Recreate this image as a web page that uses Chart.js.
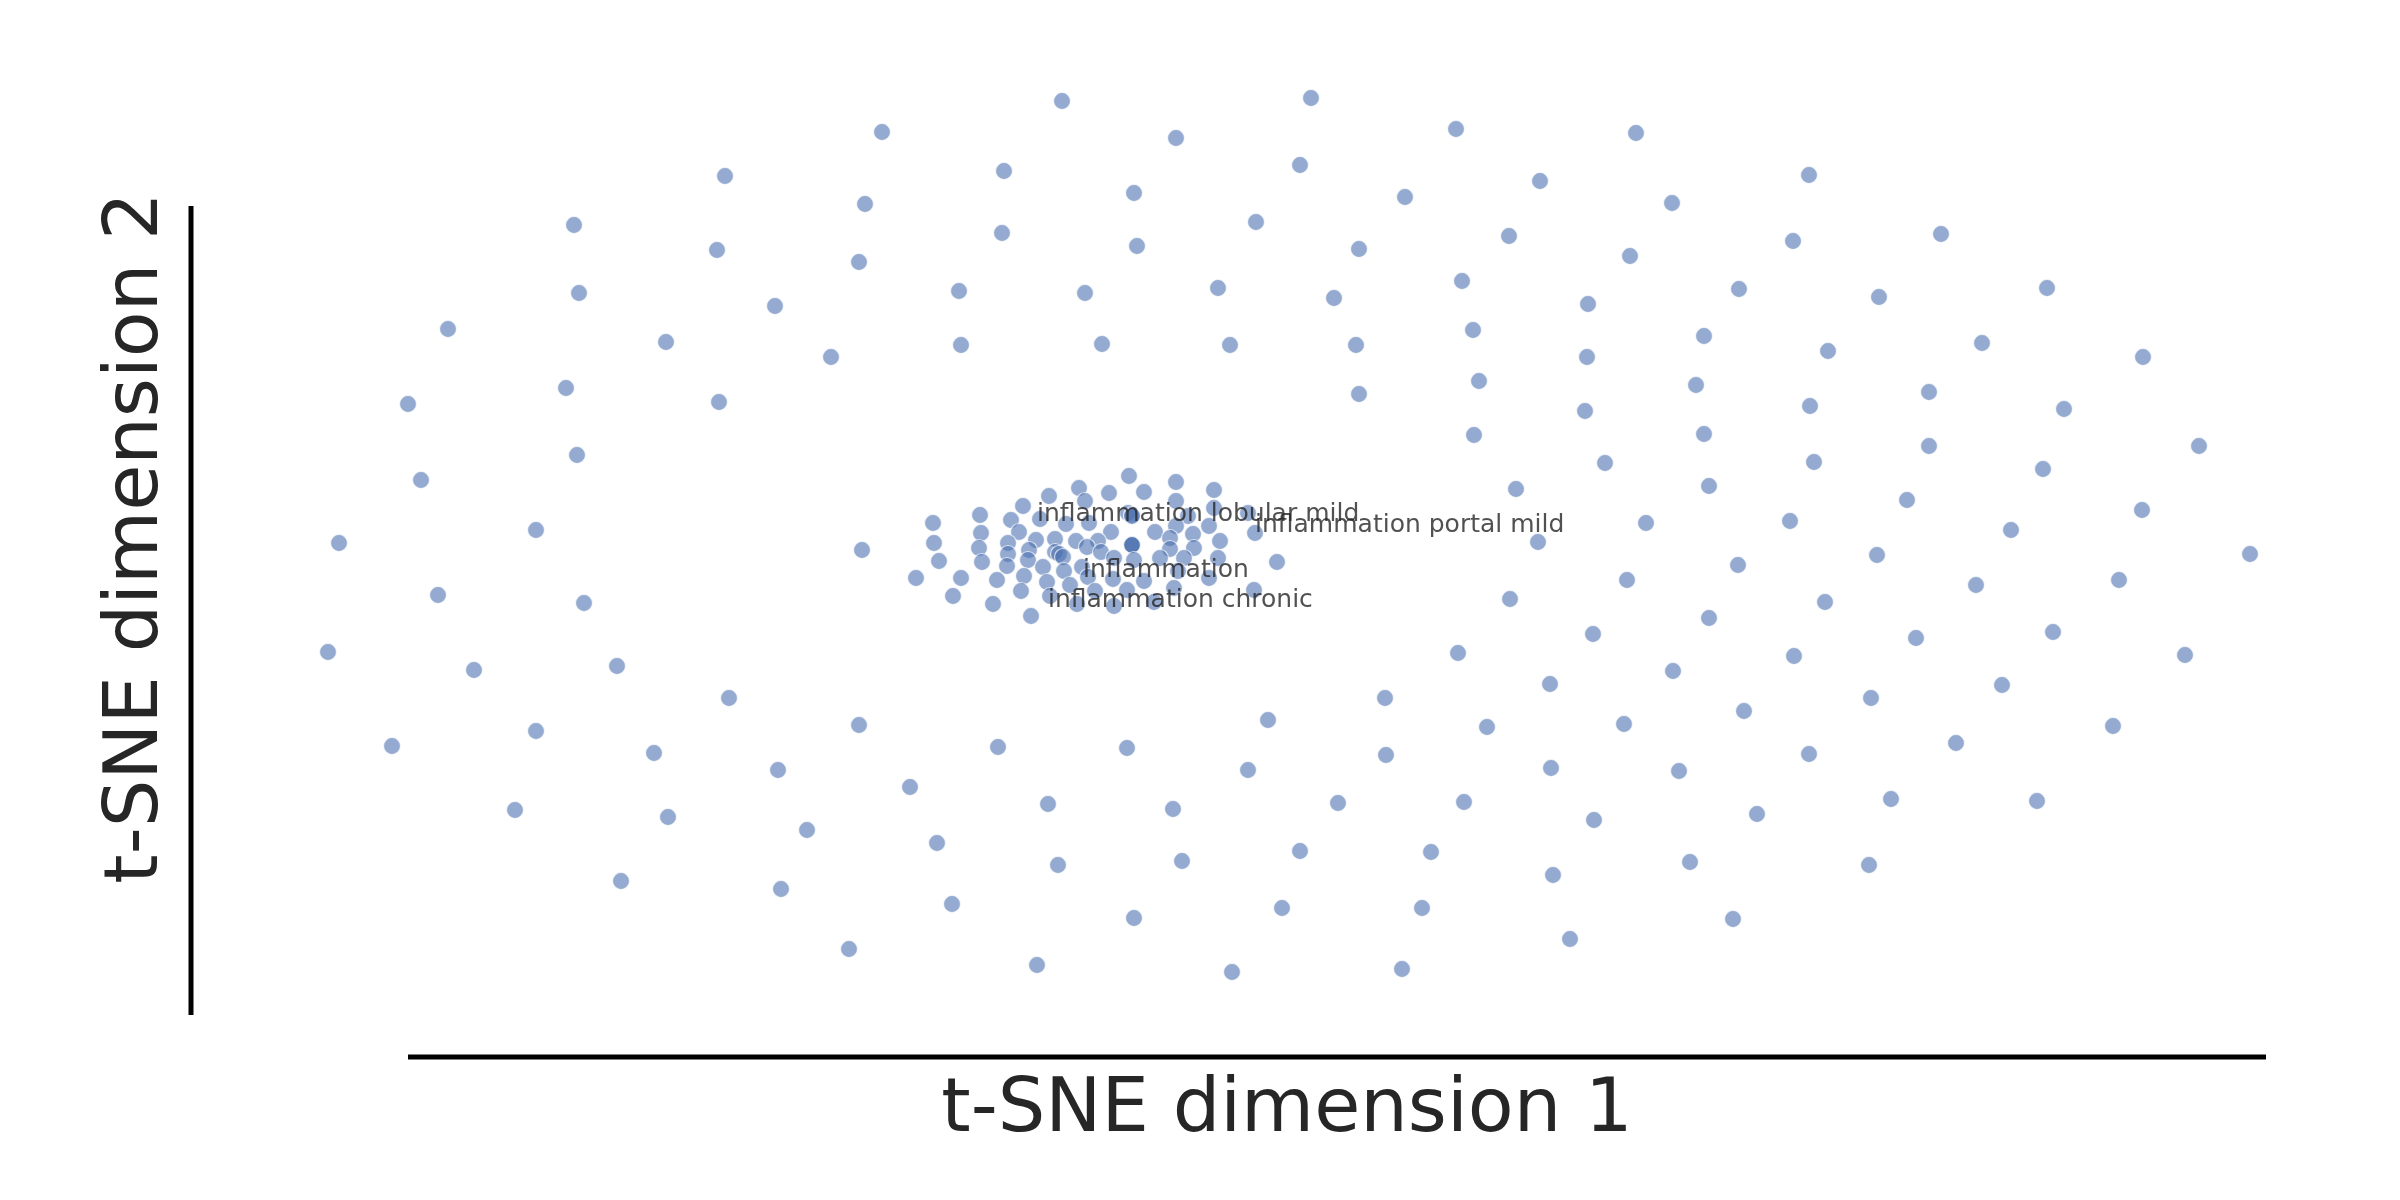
<!DOCTYPE html>
<html>
<head>
<meta charset="utf-8">
<title>t-SNE</title>
<script src="https://cdn.jsdelivr.net/npm/chart.js@4.4.1/dist/chart.umd.min.js"></script>
<style>
  html, body { margin: 0; padding: 0; background: #fff; }
  #graph { display: block; }
</style>
</head>
<body>
<canvas id="graph" width="2400" height="1200"></canvas>
<script>
// embedding coordinates (dim 1, dim 2)
const outerPoints = [
    [882,132],[725,176],[865,204],[574,225],[717,250],[859,262],[959,291],[579,293],[775,306],[448,329],
    [666,342],[831,357],[961,345],[566,388],[408,404],[719,402],[577,455],[421,480],[536,530],
    [1062,101],[1311,98],[1456,129],[1636,133],[1176,138],[1004,171],[1300,165],[1134,193],[1405,197],[1540,181],
    [1002,233],[1137,246],[1256,222],[1359,249],[1509,236],[1630,256],[1085,293],[1218,288],[1334,298],[1462,281],
    [1588,304],[1102,344],[1230,345],[1356,345],[1473,330],[1587,357],[1359,394],[1479,381],[1585,411],[1474,435],
    [1605,463],[1516,489],[1646,523],
    [1809,175],[1672,203],[1793,241],[1941,234],[1739,289],[1879,297],[2047,288],[1704,336],[1828,351],[1982,343],
    [2143,357],[1696,385],[1810,406],[1929,392],[2064,409],[1704,434],[1814,462],[1929,446],[2043,469],[2199,446],
    [1709,486],[1907,500],[2142,510],[1790,521],[2011,530],
    [2250,554],[1738,565],[1877,555],[1976,585],[2119,580],[1709,618],[1825,602],[1916,638],[2053,632],[2185,655],
    [1673,671],[1794,656],[2002,685],[1744,711],[1871,698],[2113,726],[1679,771],[1809,754],[1956,743],[1891,799],
    [2037,801],[1757,814],[1690,862],[1869,865],[1733,919],
    [1538,542],[1627,580],[1510,599],[1593,634],[1458,653],[1550,684],[1385,698],[1268,720],[1487,727],[1624,724],
    [998,747],[1127,748],[1248,770],[1386,755],[1551,768],[1048,804],[1173,809],[1338,803],[1464,802],[1594,820],
    [1058,865],[1182,861],[1300,851],[1431,852],[1553,875],[1134,918],[1282,908],[1422,908],[1570,939],[1037,965],
    [1232,972],[1402,969],
    [339,543],[862,550],[438,595],[584,603],[328,652],[474,670],[617,666],[729,698],[859,725],[392,746],
    [536,731],[654,753],[778,770],[910,787],[515,810],[668,817],[807,830],[937,843],[621,881],[781,889],
    [952,904],[849,949]
];

const clusterPoints = [
    [1129,476],[1176,482],[1079,488],[1109,493],[1144,492],[1214,490],[1049,496],[1085,501],[1176,501],[1023,506],
    [1214,508],[933,523],[980,515],[1011,520],[1040,519],[1066,524],[1089,523],[1128,513],[1132,515],[1132,516],
    [1248,513],[1188,516],[1176,526],[1209,526],[1255,533],[981,533],[1019,532],[1111,532],[1155,532],[1193,534],
    [934,543],[1008,543],[1036,540],[1055,539],[1076,541],[1098,541],[1132,545],[1132,545],[1132,545],[1170,538],
    [1220,541],[979,548],[1008,554],[1029,550],[1055,552],[1059,554],[1063,557],[1087,547],[1101,552],[1170,549],
    [1194,548],[1218,558],[1277,562],[939,561],[982,562],[1028,560],[1007,566],[1043,567],[1064,571],[1082,567],
    [1114,558],[1134,560],[1160,558],[1184,558],[916,578],[961,578],[997,580],[1024,576],[1047,582],[1070,585],
    [1088,577],[1113,579],[1144,581],[1178,571],[1209,578],[953,596],[1021,591],[1050,596],[1095,591],[1127,590],
    [1174,588],[1254,590],[993,604],[1077,604],[1114,606],[1154,602],[1031,616]
];

// annotated terms and where their text sits
const termLabels = ["inflammation lobular mild", "inflammation portal mild", "inflammation", "inflammation chronic"];
const termX = [1037, 1255, 1083, 1048];
const termY = [521, 532, 577, 607];

const AXIS_X_TITLE = "t-SNE dimension 1";
const AXIS_Y_TITLE = "t-SNE dimension 2";

// trimmed spine extents, in data units
const xSpine = [408, 2266];
const ySpine = [206, 1015];

function toXY(p) {
    return { x: p[0], y: p[1] };
}

const decorations = {
    id: 'decorations',
    afterDraw(chart) {
        const ctx = chart.ctx;
        const xs = chart.scales.x;
        const ys = chart.scales.y;

        ctx.save();
        // spines
        ctx.strokeStyle = '#000';
        ctx.lineWidth = 5;
        ctx.lineCap = 'butt';
        ctx.beginPath();
        ctx.moveTo(xs.getPixelForValue(xSpine[0]), ys.getPixelForValue(1057));
        ctx.lineTo(xs.getPixelForValue(xSpine[1]), ys.getPixelForValue(1057));
        ctx.moveTo(xs.getPixelForValue(191), ys.getPixelForValue(ySpine[0]));
        ctx.lineTo(xs.getPixelForValue(191), ys.getPixelForValue(ySpine[1]));
        ctx.stroke();

        // annotations
        ctx.fillStyle = 'rgba(38,38,38,0.8)';
        ctx.font = "25px 'DejaVu Sans'";
        ctx.textAlign = 'left';
        ctx.textBaseline = 'alphabetic';
        for (let i = 0; i < termLabels.length; i++) {
            ctx.fillText(termLabels[i], xs.getPixelForValue(termX[i]), ys.getPixelForValue(termY[i]));
        }

        // axis titles
        ctx.fillStyle = '#262626';
        ctx.font = "75px 'DejaVu Sans'";
        ctx.textAlign = 'center';
        ctx.fillText(AXIS_X_TITLE, 1287, 1131);
        ctx.translate(157, 538);
        ctx.rotate(-Math.PI / 2);
        ctx.fillText(AXIS_Y_TITLE, 0, 0);
        ctx.restore();
    }
};

const pointStyle = {
    backgroundColor: 'rgba(76, 114, 176, 0.6)',
    borderColor: 'rgba(255, 255, 255, 0.7)',
    borderWidth: 1.2,
    pointRadius: 8.5,
    pointHoverRadius: 8.5
};

const ctx = document.getElementById('graph').getContext('2d');
const myChart = new Chart(ctx, {
    type: 'scatter',
    data: {
        datasets: [
            Object.assign({ label: 'terms', data: outerPoints.map(toXY) }, pointStyle),
            Object.assign({ label: 'cluster', data: clusterPoints.map(toXY) }, pointStyle)
        ]
    },
    options: {
        responsive: false,
        animation: false,
        devicePixelRatio: 1,
        events: [],
        layout: { padding: 0, autoPadding: false },
        plugins: {
            legend: { display: false },
            tooltip: { enabled: false }
        },
        scales: {
            x: { type: 'linear', min: 0, max: 2400, display: false },
            y: { type: 'linear', min: 0, max: 1200, reverse: true, display: false }
        }
    },
    plugins: [decorations]
});
</script>
</body>
</html>
